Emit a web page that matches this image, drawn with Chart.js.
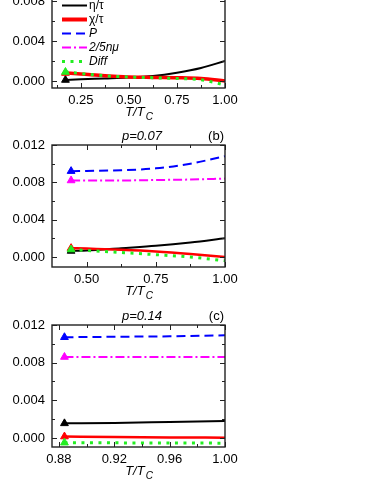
<!DOCTYPE html>
<html>
<head>
<meta charset="utf-8">
<script src="https://cdn.jsdelivr.net/npm/chart.js@4.4.1/dist/chart.umd.min.js"></script>
<style>
	html, body {
		margin: 0;
		padding: 0;
		background: #fff;
	}
	.page {
		position: relative;
		width: 374px;
		height: 484px;
		overflow: hidden;
	}
	.page canvas {
		position: absolute;
		left: 0;
	}
</style>
</head>
<body>
<div class="page">
	<canvas id="chartA" width="374" height="197" style="top: -69px"></canvas>
	<canvas id="chartB" width="374" height="192" style="top: 115px"></canvas>
	<canvas id="chartC" width="374" height="192" style="top: 295px"></canvas>
</div>
<script>
// series labels
const labels = ['η/τ', 'χ/τ', 'P', '2/5nμ', 'Diff']

// panel (a)
const xA = [0.17, 0.25, 0.375, 0.5, 0.625, 0.75, 0.875, 1.0]
const etaA = [0.0001, 0.00017, 0.00025, 0.00034, 0.0005, 0.00083, 0.0013, 0.002]
const chiA = [0.0008, 0.0007, 0.00052, 0.0004, 0.00036, 0.00033, 0.00025, 0.0]
const pA = [0.0096, 0.0096, 0.0097, 0.0098, 0.0099, 0.0101, 0.0104, 0.0108]
const nmuA = [0.0088, 0.0088, 0.0088, 0.0088, 0.0088, 0.0088, 0.0088, 0.0088]
const diffA = [0.0009, 0.00075, 0.00052, 0.0004, 0.00033, 0.00025, 0.00012, -0.0004]

// panel (b), p=0.07
const xB = [0.444, 0.5, 0.625, 0.75, 0.875, 1.0]
const etaB = [0.00065, 0.0007, 0.00095, 0.0012, 0.00155, 0.002]
const chiB = [0.00095, 0.0009, 0.00078, 0.0006, 0.00033, 0.0]
const pB = [0.0092, 0.00922, 0.0093, 0.0095, 0.01, 0.0108]
const nmuB = [0.0082, 0.0082, 0.0082, 0.00825, 0.0083, 0.0084]
const diffB = [0.0008, 0.0007, 0.00048, 0.00025, 0.0, -0.0004]

// panel (c), p=0.14
const xC = [0.884, 0.92, 0.96, 1.0]
const etaC = [0.00155, 0.0016, 0.0017, 0.0018]
const chiC = [0.00015, 0.0001, 0.00006, 0.00003]
const pC = [0.0107, 0.01075, 0.0108, 0.0109]
const nmuC = [0.0086, 0.0086, 0.0086, 0.0086]
const diffC = [-0.0005, -0.00052, -0.00054, -0.00055]

// tick labels
const yTicks = [0, 0.004, 0.008, 0.012]
const yMinor = [0.002, 0.006, 0.01]
const xTicksA = [0.25, 0.5, 0.75, 1.0]
const xMinorA = [0.125, 0.375, 0.625, 0.875]
const xTicksB = [0.5, 0.75, 1.0]
const xMinorB = [0.625, 0.875]
const xTicksC = [0.88, 0.92, 0.96, 1.0]
const xMinorC = [0.9, 0.94, 0.98]

const fontFamily = '"Liberation Sans", Arial, sans-serif'
Chart.defaults.font.family = fontFamily
Chart.defaults.font.size = 13
Chart.defaults.color = '#000'

const styles = [
	{ color: '#000000', width: 2, dash: [], order: 4 },
	{ color: '#ff0000', width: 3, dash: [], order: 3 },
	{ color: '#0000ff', width: 2, dash: [9, 5], order: 1 },
	{ color: '#ff00ff', width: 2, dash: [9, 3, 2, 3], order: 2 },
	{ color: '#22ee22', width: 3, dash: [3, 5.5], order: 0 },
]

function makeDatasets(xs, series, redWidth) {
	return series.map((ys, k) => {
		const s = styles[k]
		return {
			label: labels[k],
			data: xs.map((x, i) => ({ x: x, y: ys[i] })),
			borderColor: s.color,
			backgroundColor: s.color,
			borderWidth: k === 1 ? redWidth : s.width,
			borderDash: s.dash,
			borderCapStyle: 'butt',
			cubicInterpolationMode: 'monotone',
			order: s.order,
			pointStyle: 'triangle',
			pointRadius: (c) => (c.dataIndex === 0 ? 4.5 : 0),
			pointHoverRadius: 0,
			pointBackgroundColor: s.color,
			pointBorderColor: s.color,
			pointBorderWidth: 1,
		}
	})
}

// frame, inward ticks, titles and legend
const framePlugin = {
	id: 'frame',
	afterDraw(chart, args, o) {
		const { ctx, chartArea: a, scales } = chart
		ctx.save()
		ctx.strokeStyle = '#222'
		ctx.lineWidth = 1
		ctx.setLineDash([])

		const xTick = (v, len) => {
			const px = Math.round(scales.x.getPixelForValue(v)) + 0.5
			ctx.beginPath()
			ctx.moveTo(px, a.bottom)
			ctx.lineTo(px, a.bottom - len)
			ctx.moveTo(px, a.top)
			ctx.lineTo(px, a.top + len)
			ctx.stroke()
		}
		const yTick = (v, len) => {
			const py = Math.round(scales.y.getPixelForValue(v)) + 0.5
			ctx.beginPath()
			ctx.moveTo(a.left, py)
			ctx.lineTo(a.left + len, py)
			ctx.moveTo(a.right, py)
			ctx.lineTo(a.right - len, py)
			ctx.stroke()
		}
		scales.x.ticks.forEach((t) => xTick(t.value, 5))
		o.xMinor.forEach((v) => xTick(v, 3))
		scales.y.ticks.forEach((t) => yTick(t.value, 5))
		yMinor.forEach((v) => yTick(v, 3))

		ctx.lineWidth = 1.4
		ctx.strokeRect(a.left, a.top, a.right - a.left, a.bottom - a.top)

		// x axis title T/T_C
		ctx.fillStyle = '#000'
		ctx.textBaseline = 'alphabetic'
		ctx.textAlign = 'left'
		const cx = (a.left + a.right) / 2
		ctx.font = 'italic 13px ' + fontFamily
		const w1 = ctx.measureText('T/T').width
		ctx.font = 'italic 10px ' + fontFamily
		const w2 = ctx.measureText('C').width
		const tx = cx - (w1 + w2) / 2
		ctx.font = 'italic 13px ' + fontFamily
		ctx.fillText('T/T', tx, a.bottom + 28)
		ctx.font = 'italic 10px ' + fontFamily
		ctx.fillText('C', tx + w1 + 1, a.bottom + 32)

		// panel title and tag
		if (o.title) {
			ctx.textBaseline = 'middle'
			ctx.textAlign = 'center'
			ctx.font = 'italic 13px ' + fontFamily
			ctx.fillText(o.title, 142, a.top - 9)
			ctx.textAlign = 'right'
			ctx.font = '13px ' + fontFamily
			ctx.fillText(o.tag, a.right - 1, a.top - 9)
		}

		// legend inside panel (a)
		if (o.legend) {
			const rows = [5.5, 19.5, 33.5, 47.5, 61.5]
			chart.data.datasets.forEach((ds, k) => {
				const y = rows[k] - o.offsetY
				ctx.strokeStyle = ds.borderColor
				ctx.lineWidth = k === 1 ? 4 : ds.borderWidth
				ctx.lineCap = 'butt'
				ctx.setLineDash(ds.borderDash)
				ctx.beginPath()
				ctx.moveTo(62, y)
				ctx.lineTo(87, y)
				ctx.stroke()
				ctx.setLineDash([])
				ctx.fillStyle = '#000'
				ctx.textAlign = 'left'
				ctx.textBaseline = 'middle'
				ctx.font = (k < 2 ? '' : 'italic ') + '12px ' + fontFamily
				ctx.fillText(ds.label, 89, y)
			})
		}
		ctx.restore()
	},
}

function makePanel(id, xs, series, xMin, yMin, xTicks, xMinor, digits, extra) {
	return new Chart(document.getElementById(id), {
		type: 'line',
		data: {
			datasets: makeDatasets(xs, series, extra.redWidth),
		},
		options: {
			responsive: false,
			maintainAspectRatio: false,
			animation: false,
			layout: {
				padding: { top: 30, right: 149, bottom: 0, left: 0 },
			},
			scales: {
				x: {
					type: 'linear',
					min: xMin,
					max: 1.0,
					grid: { display: false, drawTicks: false },
					border: { display: false },
					ticks: {
						padding: 5,
						maxRotation: 0,
						autoSkip: false,
						callback: (v) => v.toFixed(digits),
					},
					afterBuildTicks: (s) => {
						s.ticks = xTicks.map((v) => ({ value: v }))
					},
					afterFit: (s) => {
						s.height = 40
					},
				},
				y: {
					type: 'linear',
					min: yMin,
					max: 0.012,
					grid: { display: false, drawTicks: false },
					border: { display: false },
					ticks: {
						padding: 7,
						callback: (v) => v.toFixed(3),
					},
					afterBuildTicks: (s) => {
						s.ticks = yTicks.map((v) => ({ value: v }))
					},
					afterFit: (s) => {
						s.width = 52
					},
				},
			},
			plugins: {
				legend: { display: false },
				tooltip: { enabled: false },
				frame: {
					xMinor: xMinor,
					title: extra.title,
					tag: extra.tag,
					legend: extra.legend,
					offsetY: extra.offsetY,
				},
			},
		},
		plugins: [framePlugin],
	})
}

makePanel('chartA', xA, [etaA, chiA, pA, nmuA, diffA], 0.1, -0.0007, xTicksA, xMinorA, 2, {
	redWidth: 3.5,
	legend: true,
	offsetY: -69,
})

makePanel('chartB', xB, [etaB, chiB, pB, nmuB, diffB], 0.375, -0.00107, xTicksB, xMinorB, 2, {
	redWidth: 2.5,
	title: 'p=0.07',
	tag: '(b)',
	offsetY: 115,
})

makePanel('chartC', xC, [etaC, chiC, pC, nmuC, diffC], 0.875, -0.00096, xTicksC, xMinorC, 2, {
	redWidth: 2.5,
	title: 'p=0.14',
	tag: '(c)',
	offsetY: 295,
})
</script>
</body>
</html>
